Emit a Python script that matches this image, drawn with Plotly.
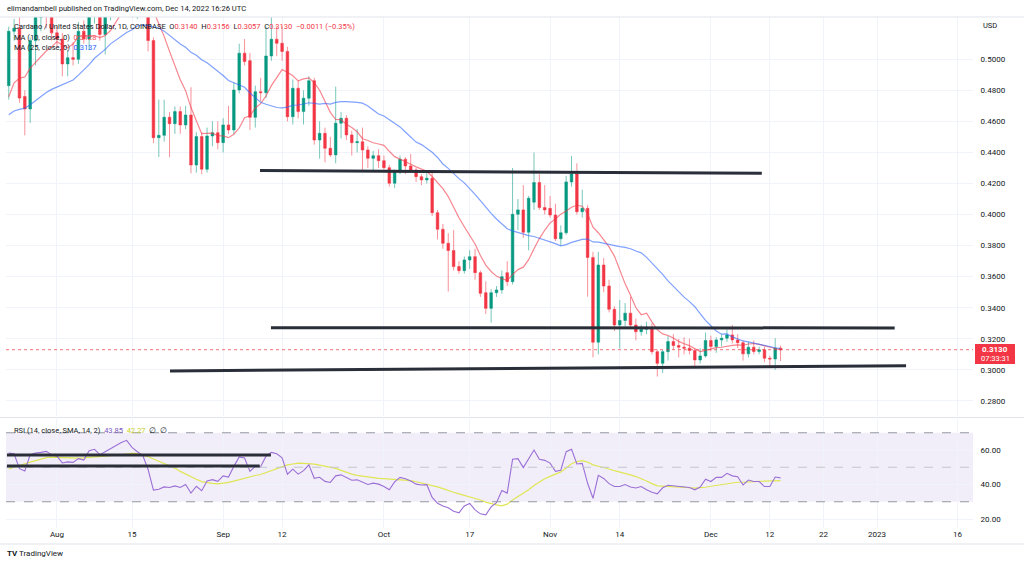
import pandas as pd
import plotly.graph_objects as go

FONT_FAMILY = "Roboto, 'Open Sans', sans-serif"
TEXT_COLOR = "#131722"
UP_COLOR = "#089981"
DOWN_COLOR = "#f23645"
GRID_COLOR = "#f0f3fa"
BORDER_COLOR = "#e0e3eb"
MA10_COLOR = "rgba(242, 54, 69, 0.6)"
MA25_COLOR = "rgba(41, 98, 255, 0.6)"
RSI_COLOR = "#9b6fd6"
RSI_MA_COLOR = "#dfe654"
TREND_COLOR = "#2a2e39"

# chart box in pixels of the 1024x565 snapshot
PLOT_LEFT, PLOT_RIGHT, PLOT_TOP, PLOT_BOTTOM = 6, 973, 17, 528

# --- data (ADA/USD daily, Coinbase) ---
first_day = "2022-07-23"
last_day = "2022-12-14"

opens = [
    0.483, 0.518, 0.520, 0.476, 0.468, 0.512, 0.527, 0.535, 0.528,
    0.517, 0.513, 0.497, 0.501, 0.500, 0.518, 0.513, 0.530, 0.534, 0.516,
    0.531, 0.545, 0.555, 0.560, 0.546, 0.535, 0.541, 0.535, 0.512, 0.4495,
    0.451, 0.4627, 0.4585, 0.4663, 0.4577, 0.4641, 0.4319, 0.4502, 0.4292, 0.4506,
    0.4527, 0.4463, 0.4577, 0.4545, 0.4802, 0.5039, 0.4991, 0.4626, 0.4791, 0.4785,
    0.5021, 0.5129, 0.5103, 0.5050, 0.4630, 0.4813, 0.4663, 0.4749, 0.4862, 0.4480,
    0.4523, 0.4427, 0.4384, 0.4588, 0.4620, 0.4513, 0.4463, 0.4469, 0.4416, 0.4362,
    0.4379, 0.4347, 0.4302, 0.4202, 0.4276, 0.4356, 0.4313, 0.4287, 0.4244, 0.4223,
    0.4234, 0.4012, 0.3905, 0.3815, 0.3768, 0.3665, 0.3639, 0.3708, 0.3729, 0.3626,
    0.3497, 0.3396, 0.3497, 0.3515, 0.3626, 0.3568, 0.4002, 0.4030, 0.3886, 0.4080,
    0.4206, 0.4045, 0.4040, 0.3997, 0.3844, 0.3883, 0.4210, 0.4261, 0.4018, 0.4040,
    0.3724, 0.3178, 0.3675, 0.3540, 0.3390, 0.3289, 0.3318, 0.3365, 0.3289, 0.3246,
    0.3261, 0.3275, 0.3117, 0.3042, 0.3117, 0.3182, 0.3157, 0.3146, 0.3140, 0.3125,
    0.3064, 0.3090, 0.3189, 0.3150, 0.3193, 0.3204, 0.3225, 0.3193, 0.3175, 0.3103,
    0.3146, 0.3118, 0.3129, 0.3075, 0.3070, 0.3140,
]
highs = [
    0.521, 0.526, 0.527, 0.480, 0.514, 0.540, 0.545, 0.545, 0.532,
    0.521, 0.517, 0.506, 0.511, 0.524, 0.525, 0.535, 0.552, 0.537, 0.536,
    0.560, 0.560, 0.570, 0.566, 0.575, 0.546, 0.548, 0.540, 0.514, 0.474,
    0.474, 0.466, 0.4696, 0.4696, 0.470, 0.482, 0.453, 0.453, 0.456, 0.460,
    0.460, 0.462, 0.470, 0.485, 0.510, 0.513, 0.504, 0.483, 0.488, 0.521,
    0.527, 0.521, 0.521, 0.508, 0.487, 0.486, 0.480, 0.489, 0.488, 0.460,
    0.456, 0.450, 0.4824, 0.466, 0.464, 0.454, 0.455, 0.456, 0.444, 0.441,
    0.442, 0.438, 0.432, 0.429, 0.438, 0.437, 0.439, 0.430, 0.426, 0.427,
    0.428, 0.403, 0.394, 0.388, 0.390, 0.370, 0.373, 0.377, 0.378, 0.364,
    0.357, 0.352, 0.354, 0.364, 0.370, 0.430, 0.410, 0.419, 0.412, 0.4399,
    0.426, 0.419, 0.412, 0.407, 0.393, 0.425, 0.4377, 0.433, 0.416, 0.406,
    0.376, 0.376, 0.372, 0.358, 0.341, 0.345, 0.343, 0.347, 0.333, 0.329,
    0.331, 0.330, 0.313, 0.313, 0.322, 0.323, 0.320, 0.321, 0.320, 0.314,
    0.314, 0.324, 0.322, 0.321, 0.323, 0.326, 0.3289, 0.323, 0.319, 0.318,
    0.319, 0.315, 0.315, 0.309, 0.3204, 0.3156,
]
lows = [
    0.474, 0.512, 0.472, 0.451, 0.459, 0.496, 0.518, 0.520, 0.512,
    0.508, 0.489, 0.489, 0.496, 0.497, 0.510, 0.506, 0.523, 0.512, 0.503,
    0.525, 0.535, 0.548, 0.540, 0.527, 0.526, 0.528, 0.505, 0.446, 0.437,
    0.447, 0.437, 0.452, 0.452, 0.455, 0.4266, 0.427, 0.426, 0.427, 0.444,
    0.442, 0.440, 0.452, 0.452, 0.478, 0.496, 0.4545, 0.456, 0.473, 0.475,
    0.499, 0.502, 0.499, 0.460, 0.458, 0.462, 0.458, 0.470, 0.445, 0.436,
    0.4336, 0.437, 0.433, 0.449, 0.448, 0.438, 0.440, 0.428, 0.430, 0.428,
    0.430, 0.429, 0.418, 0.417, 0.426, 0.426, 0.428, 0.421, 0.419, 0.420,
    0.399, 0.384, 0.378, 0.3504, 0.364, 0.362, 0.362, 0.365, 0.358, 0.347,
    0.336, 0.3304, 0.347, 0.349, 0.354, 0.355, 0.390, 0.385, 0.377, 0.403,
    0.403, 0.400, 0.398, 0.383, 0.380, 0.387, 0.418, 0.400, 0.398, 0.3471,
    0.308, 0.310, 0.350, 0.337, 0.325, 0.3139, 0.328, 0.327, 0.319, 0.322,
    0.323, 0.310, 0.2957, 0.298, 0.306, 0.313, 0.308, 0.310, 0.310, 0.301,
    0.304, 0.308, 0.312, 0.311, 0.315, 0.318, 0.317, 0.314, 0.306, 0.308,
    0.310, 0.310, 0.305, 0.302, 0.300, 0.3057,
]
closes = [
    0.518, 0.520, 0.475, 0.468, 0.512, 0.527, 0.535, 0.528, 0.517,
    0.513, 0.497, 0.501, 0.500, 0.518, 0.513, 0.530, 0.534, 0.516, 0.531,
    0.545, 0.555, 0.560, 0.546, 0.535, 0.541, 0.535, 0.512, 0.4495, 0.451,
    0.4627, 0.4585, 0.4663, 0.4577, 0.4641, 0.4319, 0.4502, 0.4292, 0.4506, 0.4527,
    0.4463, 0.4577, 0.4545, 0.4802, 0.5039, 0.4985, 0.4626, 0.4791, 0.4785, 0.5021,
    0.5129, 0.5103, 0.5050, 0.4630, 0.4813, 0.4663, 0.4749, 0.4862, 0.4480, 0.4523,
    0.4427, 0.4384, 0.4588, 0.4620, 0.4513, 0.4463, 0.4469, 0.4416, 0.4362, 0.4379,
    0.4347, 0.4302, 0.4202, 0.4276, 0.4356, 0.4313, 0.4287, 0.4244, 0.4223, 0.4234,
    0.4012, 0.3905, 0.3815, 0.3768, 0.3665, 0.3639, 0.3708, 0.3729, 0.3626, 0.3493,
    0.3396, 0.3497, 0.3515, 0.3600, 0.3568, 0.4002, 0.4030, 0.3886, 0.4105, 0.4206,
    0.4045, 0.4030, 0.3997, 0.3844, 0.3883, 0.4210, 0.4261, 0.4018, 0.4040, 0.3724,
    0.3178, 0.3675, 0.3540, 0.3390, 0.3289, 0.3318, 0.3365, 0.3289, 0.3246, 0.3261,
    0.3275, 0.3117, 0.3042, 0.3117, 0.3182, 0.3157, 0.3146, 0.3140, 0.3125, 0.3064,
    0.3090, 0.3189, 0.3150, 0.3193, 0.3204, 0.3225, 0.3193, 0.3175, 0.3103, 0.3146,
    0.3118, 0.3129, 0.3075, 0.3070, 0.3140, 0.3130,
]
# closes Jun 29 - Jul 22, off screen, only feed the moving averages
prior_closes = [
    0.46, 0.45, 0.45, 0.455, 0.46, 0.475, 0.46, 0.465, 0.475, 0.47, 0.465, 0.45,
    0.44, 0.43, 0.445, 0.43, 0.445, 0.46, 0.455, 0.49, 0.50, 0.49, 0.49, 0.48,
]
rsi_values = [
    58.2, 57.8, 49.2, 47.8, 57.3, 58.2, 58.6, 59.2, 57.3,
    56.4, 52.5, 53.1, 52.8, 55.0, 54.2, 59.6, 60.4, 57.3, 59.0,
    60.8, 62.5, 64.3, 65.6, 61.5, 59.0, 56.9, 48.7, 36.8, 37.2,
    38.6, 38.3, 39.2, 38.3, 40.0, 35.0, 39.0, 36.4, 42.0, 42.8,
    41.8, 45.0, 44.3, 50.5, 56.0, 55.4, 47.6, 50.5, 50.3, 56.4,
    58.6, 57.8, 55.5, 46.0, 48.9, 46.0, 48.0, 51.4, 43.6, 44.2,
    41.8, 41.2, 45.0, 45.6, 43.8, 42.5, 42.7, 41.2, 40.0, 40.8,
    40.2, 38.8, 36.9, 41.5, 44.1, 43.3, 42.0, 40.2, 39.7, 39.9,
    32.5, 29.1, 27.5, 26.5, 24.5, 23.6, 27.6, 29.0, 25.3, 23.0,
    22.4, 27.0, 29.5, 36.5, 35.0, 54.6, 55.0, 49.8, 55.0, 60.0,
    54.6, 54.0, 52.4, 47.6, 48.3, 59.0, 60.4, 51.9, 52.2, 40.7,
    32.0, 45.3, 43.5, 40.5, 38.8, 38.8, 40.0, 38.5, 38.0, 38.8,
    37.0, 35.5, 34.6, 38.1, 39.6, 39.2, 39.0, 38.8, 38.3, 36.9,
    38.5, 43.1, 41.7, 44.1, 44.1, 46.5, 45.0, 44.5, 39.7, 42.6,
    41.7, 41.7, 38.8, 38.8, 44.3, 43.85,
]
rsi_ma_values = [
    49.0, 50.0, 51.2, 52.3, 53.0, 53.8, 54.6, 55.6, 55.9,
    55.8, 55.5, 55.2, 55.2, 55.3, 55.4, 55.6, 55.9, 56.1, 56.4,
    56.6, 57.0, 57.4, 57.8, 58.1, 57.9, 57.2, 56.2, 54.8, 53.5,
    52.4, 51.0, 49.5, 47.6, 46.0, 44.5, 43.0, 41.7, 41.0, 40.6,
    40.4, 40.6, 41.2, 42.0, 42.9, 43.7, 44.3, 45.2, 45.8, 47.0,
    48.2, 49.2, 50.3, 51.4, 51.9, 52.4, 52.3, 52.1, 51.8, 51.2,
    50.6, 49.9, 49.3, 48.2, 46.9, 46.0, 45.3, 44.8, 44.2, 43.8,
    43.6, 43.4, 43.2, 43.1, 42.9, 42.6, 42.2, 41.6, 40.9, 40.3,
    39.5, 38.6, 37.6, 36.4, 35.5, 34.6, 33.7, 33.0, 32.0, 31.0,
    29.8, 28.9, 28.2, 27.6, 28.6, 31.0, 33.0, 34.8, 37.0, 39.4,
    41.6, 43.3, 44.7, 45.8, 47.3, 49.6, 52.0, 53.3, 53.8, 53.0,
    51.4, 50.6, 50.0, 49.0, 48.0, 47.3, 46.4, 45.6, 44.6, 43.5,
    42.0, 40.5, 39.2, 39.0, 38.9, 38.8, 38.6, 38.4, 38.1, 37.9,
    38.0, 38.4, 39.0, 39.5, 40.0, 40.6, 41.0, 41.3, 41.3, 41.6,
    41.7, 41.8, 41.9, 42.0, 42.2, 42.27,
]

price_ticks = [0.28, 0.30, 0.32, 0.34, 0.36, 0.38, 0.40, 0.42, 0.44, 0.46, 0.48, 0.50]
rsi_ticks = [20, 40, 60]
rsi_levels = [70, 50, 30]
date_ticks = [
    "2022-08-01", "2022-08-15", "2022-09-01", "2022-09-12", "2022-10-01", "2022-10-17",
    "2022-11-01", "2022-11-14", "2022-12-01", "2022-12-12", "2022-12-22", "2023-01-01",
    "2023-01-16",
]
date_tick_labels = ["Aug", "15", "Sep", "12", "Oct", "17", "Nov", "14", "Dec", "12", "22", "2023", "16"]

# hand drawn lines on the chart: (start, value, end, value)
price_trendlines = [
    ("2022-09-07 21:00", 0.4283, "2022-12-10 12:00", 0.4266),
    ("2022-09-09 22:00", 0.3272, "2023-01-04 07:00", 0.3270),
    ("2022-08-22 02:00", 0.2993, "2023-01-06 10:00", 0.3027),
]
rsi_trendlines = [
    ("2022-07-22 16:00", 57.1, "2022-09-09 22:00", 57.1),
    ("2022-07-22 16:00", 50.7, "2022-09-07 20:00", 50.7),
]

last_price = 0.3130
x_range = ["2022-07-22 11:45", "2023-01-18 21:40"]
price_range = [0.2703, 0.5272]
rsi_range = [14.78, 77.97]


def paper_x(px):
    return (px - PLOT_LEFT) / (PLOT_RIGHT - PLOT_LEFT)


def paper_y(py):
    return (PLOT_BOTTOM - py) / (PLOT_BOTTOM - PLOT_TOP)


def span(text, color):
    return f"<span style='color:{color}'>{text}</span>"


dates = pd.date_range(first_day, last_day, freq="D")
all_closes = pd.Series(prior_closes + closes)
ma10 = all_closes.rolling(10).mean().iloc[len(prior_closes):].to_numpy()
ma25 = all_closes.rolling(25).mean().iloc[len(prior_closes):].to_numpy()

fig = go.Figure()
fig.add_trace(
    go.Candlestick(
        x=dates, open=opens, high=highs, low=lows, close=closes,
        increasing=dict(line=dict(color="rgba(8,153,129,0.55)", width=1), fillcolor=UP_COLOR),
        decreasing=dict(line=dict(color="rgba(242,54,69,0.55)", width=1), fillcolor=DOWN_COLOR),
        xaxis="x", yaxis="y", showlegend=False, hoverinfo="skip",
    )
)
fig.add_trace(go.Scatter(x=dates, y=ma10, mode="lines", line=dict(color=MA10_COLOR, width=1.2),
                         xaxis="x", yaxis="y", showlegend=False, hoverinfo="skip"))
fig.add_trace(go.Scatter(x=dates, y=ma25, mode="lines", line=dict(color=MA25_COLOR, width=1.2),
                         xaxis="x", yaxis="y", showlegend=False, hoverinfo="skip"))
fig.add_trace(go.Scatter(x=dates, y=rsi_ma_values, mode="lines", line=dict(color=RSI_MA_COLOR, width=1.2),
                         xaxis="x2", yaxis="y2", showlegend=False, hoverinfo="skip"))
fig.add_trace(go.Scatter(x=dates, y=rsi_values, mode="lines", line=dict(color=RSI_COLOR, width=1.1),
                         xaxis="x2", yaxis="y2", showlegend=False, hoverinfo="skip"))

shapes = []
# rsi band and levels
shapes.append(dict(type="rect", xref="paper", yref="y2", x0=0, x1=1, y0=30, y1=70,
                   fillcolor="rgba(126,87,194,0.1)", line_width=0, layer="below"))
for level in rsi_levels:
    shapes.append(dict(type="line", xref="paper", yref="y2", x0=0, x1=1, y0=level, y1=level,
                       line=dict(color="#9598a1" if level != 50 else "#c3c5cb", width=1, dash="dash")))
# last price marker line
shapes.append(dict(type="line", xref="paper", yref="y", x0=0, x1=1, y0=last_price, y1=last_price,
                   line=dict(color="rgba(242,54,69,0.7)", width=1, dash="dot")))
# frame lines
for py in (PLOT_TOP, 417.5, 544):
    shapes.append(dict(type="line", xref="paper", yref="paper", x0=paper_x(0), x1=paper_x(1024),
                       y0=paper_y(py), y1=paper_y(py), line=dict(color=BORDER_COLOR, width=1)))
for x0, y0, x1, y1 in price_trendlines:
    shapes.append(dict(type="line", xref="x", yref="y", x0=x0, y0=y0, x1=x1, y1=y1,
                       line=dict(color=TREND_COLOR, width=3)))
for x0, y0, x1, y1 in rsi_trendlines:
    shapes.append(dict(type="line", xref="x2", yref="y2", x0=x0, y0=y0, x1=x1, y1=y1,
                       line=dict(color=TREND_COLOR, width=3)))
# last price label box on the price scale
shapes.append(dict(type="rect", xref="paper", yref="paper", x0=paper_x(975), x1=paper_x(1015),
                   y0=paper_y(364), y1=paper_y(344), fillcolor=DOWN_COLOR, line_width=0))

small = dict(family=FONT_FAMILY, size=7.5, color=TEXT_COLOR)
annotations = [
    dict(text="elimandambell published on TradingView.com, Dec 14, 2022 16:26 UTC",
         x=paper_x(5), y=paper_y(8), xanchor="left", yanchor="middle",
         font=dict(family=FONT_FAMILY, size=7.6, color=TEXT_COLOR)),
    dict(text="Cardano / United States Dollar, 1D, COINBASE\u00a0\u00a0O" + span("0.3140", DOWN_COLOR)
         + "\u00a0\u00a0H" + span("0.3156", DOWN_COLOR) + "\u00a0\u00a0L" + span("0.3057", DOWN_COLOR)
         + "\u00a0\u00a0C" + span("0.3130", DOWN_COLOR) + "\u00a0\u00a0" + span("\u22120.0011 (\u22120.35%)", DOWN_COLOR),
         x=paper_x(12), y=paper_y(26), xanchor="left", yanchor="middle", font=small),
    dict(text="MA (10, close, 0)\u00a0\u00a0" + span("0.3128", "#f7525f"),
         x=paper_x(12), y=paper_y(37), xanchor="left", yanchor="middle", font=small),
    dict(text="MA (25, close, 0)\u00a0\u00a0" + span("0.3137", "#2962ff"),
         x=paper_x(12), y=paper_y(47.5), xanchor="left", yanchor="middle", font=small),
    dict(text="RSI (14, close, SMA, 14, 2)\u00a0\u00a0" + span("43.85", "#7e57c2") + "\u00a0\u00a0"
         + span("42.27", "#c9d02a") + "\u00a0\u00a0\u2205\u00a0\u00a0\u2205",
         x=paper_x(12), y=paper_y(430.5), xanchor="left", yanchor="middle", font=small),
    dict(text="USD", x=paper_x(981), y=paper_y(25), xanchor="left", yanchor="middle", font=small),
    dict(text="<b>0.3130</b>", x=paper_x(995), y=paper_y(349.5), xanchor="center", yanchor="middle",
         font=dict(family=FONT_FAMILY, size=8, color="white")),
    dict(text="07:33:31", x=paper_x(995), y=paper_y(358.5), xanchor="center", yanchor="middle",
         font=dict(family=FONT_FAMILY, size=7.5, color="white")),
    dict(text="<b>TV</b> TradingView", x=paper_x(5), y=paper_y(553), xanchor="left", yanchor="middle",
         font=dict(family=FONT_FAMILY, size=8, color=TEXT_COLOR)),
]
for a in annotations:
    a.update(xref="paper", yref="paper", showarrow=False)

fig.update_layout(
    width=1024, height=565,
    margin=dict(l=PLOT_LEFT, r=1024 - PLOT_RIGHT, t=PLOT_TOP, b=565 - PLOT_BOTTOM, pad=0),
    paper_bgcolor="white", plot_bgcolor="white",
    font=dict(family=FONT_FAMILY, size=8, color=TEXT_COLOR),
    showlegend=False,
    shapes=shapes,
    annotations=annotations,
    xaxis=dict(domain=[0, 1], anchor="y", type="date", range=x_range, tickvals=date_ticks,
               showticklabels=False, showgrid=True, gridcolor=GRID_COLOR, zeroline=False,
               rangeslider=dict(visible=False), showline=False),
    xaxis2=dict(domain=[0, 1], anchor="y2", type="date", range=x_range, matches="x",
                tickvals=date_ticks, ticktext=date_tick_labels, showgrid=True, gridcolor=GRID_COLOR,
                zeroline=False, ticks="", tickfont=dict(family=FONT_FAMILY, size=8, color=TEXT_COLOR),
                showline=False),
    yaxis=dict(domain=[paper_y(416), 1], anchor="x", side="right", range=price_range,
               tickvals=price_ticks, tickformat=".4f", showgrid=True, gridcolor=GRID_COLOR,
               zeroline=False, ticks="outside", ticklen=5, tickcolor="rgba(0,0,0,0)",
               tickfont=dict(family=FONT_FAMILY, size=8, color=TEXT_COLOR)),
    yaxis2=dict(domain=[0, paper_y(419)], anchor="x2", side="right", range=rsi_range,
                tickvals=rsi_ticks, tickformat=".2f", showgrid=True, gridcolor=GRID_COLOR,
                zeroline=False, ticks="outside", ticklen=5, tickcolor="rgba(0,0,0,0)",
                tickfont=dict(family=FONT_FAMILY, size=8, color=TEXT_COLOR)),
)

# the page's default body margin would shift the snapshot by 8px
fig.write_html("out.html", config={"displayModeBar": False},
               post_script="document.body.style.margin = '0px';")
